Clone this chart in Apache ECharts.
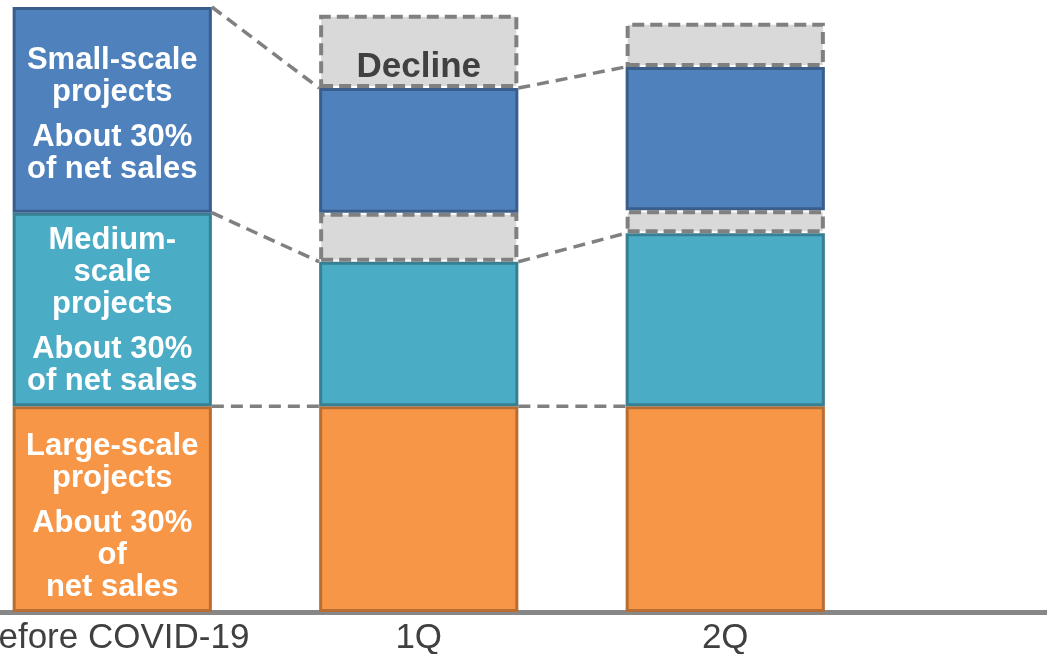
<!DOCTYPE html>
<html>
<head>
<meta charset="utf-8">
<script src="https://cdn.jsdelivr.net/npm/echarts@6/dist/echarts.min.js"></script>
<style>
html,body{margin:0;padding:0;background:#fff;}
#chart{width:1047px;height:654px;}
</style>
</head>
<body>
<div id="chart"></div>
<script>
// ---- data ----
const categories = ['Before COVID-19', '1Q', '2Q', ''];
const largeScale = [34, 34, 34];
const mediumScale = [32, 23.9, 28.6];
const mediumDecline = [null, 8.1, 3.8];
const smallScale = [34, 20.6, 23.7];
const smallDecline = [null, 12.1, 7.3];

const largeText = ['Large-scale', 'projects', 'About 30%', 'of', 'net sales'];
const mediumText = ['Medium-', 'scale', 'projects', 'About 30%', 'of net sales'];
const smallText = ['Small-scale', 'projects', 'About 30%', 'of net sales'];
const declineText = 'Decline';

// ---- helpers ----
const BAR_RATIO = 0.65;
const FONT = "'Liberation Sans', Arial, sans-serif";

function cum(arrs, i) {
  let s = 0;
  arrs.forEach(a => { s += (a[i] || 0); });
  return s;
}
// connector levels: [index, fromValue, toValue]
const connectors = [];
for (let i = 0; i < 2; i++) {
  connectors.push([i, cum([largeScale], i), cum([largeScale], i + 1)]);
  connectors.push([i, cum([largeScale, mediumScale], i), cum([largeScale, mediumScale], i + 1)]);
  connectors.push([i, cum([largeScale, mediumScale, mediumDecline, smallScale], i),
                      cum([largeScale, mediumScale, mediumDecline, smallScale], i + 1)]);
}

function blockLabel(lines, splitAt, offset) {
  const parts = lines.map(l => '{t|' + l + '}');
  parts.splice(splitAt, 0, '{g| }');
  return {
    show: true,
    position: 'inside',
    offset: offset || [0, 0],
    formatter: parts.join('\n'),
    rich: {
      t: { fontFamily: FONT, fontSize: 31, fontWeight: 'bold', color: '#ffffff', lineHeight: 32, align: 'center' },
      g: { fontSize: 2, lineHeight: 13 }
    }
  };
}

function withLabel(arr, label) {
  return arr.map((v, i) => i === 0 ? { value: v, label: label } : v);
}

const solidStyle = (fill, border) => ({ color: fill, borderColor: border, borderWidth: 3 });
const dashStyle = { color: '#D9D9D9', borderColor: '#808080', borderWidth: 4, borderType: [12, 6] };

const chart = echarts.init(document.getElementById('chart'), null, { renderer: 'canvas' });
chart.setOption({
  animation: false,
  backgroundColor: '#ffffff',
  grid: { left: -41, top: 7, width: 1226, bottom: 42, containLabel: false, outerBoundsMode: 'none' },
  xAxis: {
    type: 'category',
    data: categories,
    axisLine: { lineStyle: { color: '#878787', width: 5 } },
    axisTick: { show: false },
    axisLabel: { interval: 0, color: '#404040', fontFamily: FONT, fontSize: 35, margin: 9 }
  },
  yAxis: {
    type: 'value', min: 0, max: 100, show: false, splitLine: { show: false }
  },
  series: [
    { name: 'Large-scale', type: 'bar', stack: 'total', barWidth: (BAR_RATIO * 100) + '%',
      data: withLabel(largeScale, blockLabel(largeText, 2, [0, 8])),
      itemStyle: solidStyle('#F79646', '#B86D33') },
    { name: 'Medium-scale', type: 'bar', stack: 'total',
      data: withLabel(mediumScale, blockLabel(mediumText, 3, [0, 1])),
      itemStyle: solidStyle('#4BACC6', '#377F92') },
    { name: 'Medium decline', type: 'bar', stack: 'total',
      data: mediumDecline, itemStyle: dashStyle },
    { name: 'Small-scale', type: 'bar', stack: 'total',
      data: withLabel(smallScale, blockLabel(smallText, 2, [0, 5])),
      itemStyle: solidStyle('#4F81BD', '#3A5E8C') },
    { name: 'Small decline', type: 'bar', stack: 'total',
      data: smallDecline.map((v, i) => i === 1 ? {
        value: v,
        label: { show: true, position: 'inside', offset: [0, 16], formatter: declineText,
                 fontFamily: FONT, fontSize: 35, fontWeight: 'bold', color: '#404040' }
      } : v),
      itemStyle: dashStyle },
    { name: 'connectors', type: 'custom', z: 5,
      data: connectors,
      encode: { x: 0, y: [1, 2] },
      renderItem: function (params, api) {
        const i = api.value(0);
        const p1 = api.coord([i, api.value(1)]);
        const p2 = api.coord([i + 1, api.value(2)]);
        const half = api.size([1, 0])[0] * BAR_RATIO / 2;
        return {
          type: 'line',
          shape: { x1: p1[0] + half, y1: p1[1], x2: p2[0] - half, y2: p2[1] },
          style: { stroke: '#808080', lineWidth: 3.5, lineDash: [12, 7] }
        };
      }
    }
  ]
});
</script>
</body>
</html>
